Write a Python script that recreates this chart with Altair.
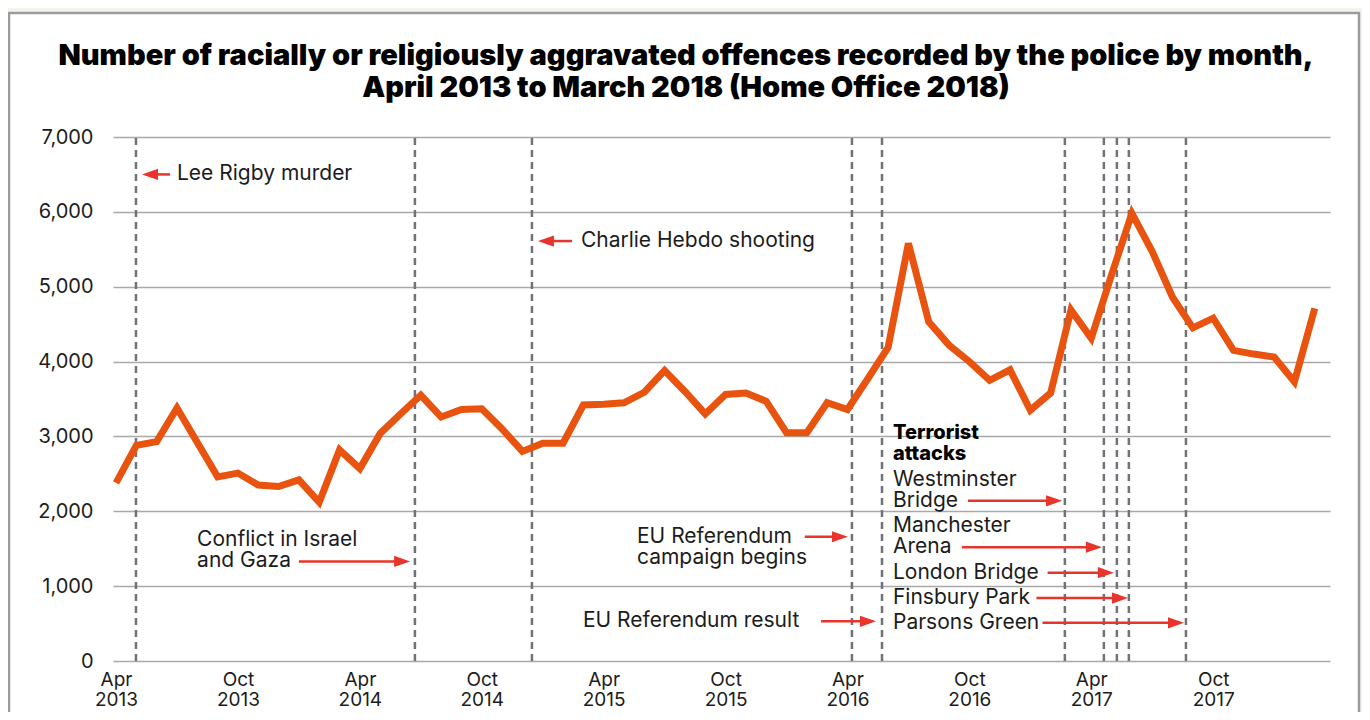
import altair as alt
import pandas as pd

# ---------------- data ----------------
month_labels = [d.strftime("%b %Y") for d in pd.date_range("2013-04-01", "2018-03-01", freq="MS")]
offences = [
    2380, 2880, 2930, 3380, 2920, 2460, 2510, 2350, 2330, 2420, 2120, 2820,   # Apr13-Mar14
    2570, 3040, 3300, 3550, 3260, 3360, 3370, 3100, 2800, 2910, 2910, 3420,   # Apr14-Mar15
    3430, 3450, 3590, 3880, 3600, 3300, 3560, 3580, 3470, 3050, 3050, 3450,   # Apr15-Mar16
    3360, 3770, 4190, 5580, 4530, 4220, 4000, 3750, 3890, 3350, 3580, 4690,   # Apr16-Mar17
    4310, 5160, 5980, 5470, 4860, 4450, 4580, 4150, 4100, 4060, 3730, 4710,   # Apr17-Mar18
]

tick_pos = [0, 6, 12, 18, 24, 30, 36, 42, 48, 54]
tick_labels = [["Apr", "2013"], ["Oct", "2013"], ["Apr", "2014"], ["Oct", "2014"],
               ["Apr", "2015"], ["Oct", "2015"], ["Apr", "2016"], ["Oct", "2016"],
               ["Apr", "2017"], ["Oct", "2017"]]
y_ticks = [0, 1000, 2000, 3000, 4000, 5000, 6000, 7000]

title_lines = ["Number of racially or religiously aggravated offences recorded by the police by month,",
               "April 2013 to March 2018 (Home Office 2018)"]

# events (position in months from April 2013)
event_names = ["Lee Rigby murder", "Conflict in Israel and Gaza", "Charlie Hebdo shooting",
               "EU Referendum campaign begins", "EU Referendum result", "Westminster Bridge",
               "Manchester Arena", "London Bridge", "Finsbury Park", "Parsons Green"]
event_pos = [0.98, 14.71, 20.47, 36.22, 37.70, 46.70, 48.62, 49.26, 49.85, 52.66]

# annotation text lines
ann_text = ["Lee Rigby murder", "Charlie Hebdo shooting", "Conflict in Israel", "and Gaza",
            "EU Referendum", "campaign begins", "EU Referendum result",
            "Terrorist", "attacks", "Westminster", "Bridge", "Manchester", "Arena",
            "London Bridge", "Finsbury Park", "Parsons Green"]
ann_x = [3.00, 22.88, 3.99, 3.99, 25.64, 25.64, 22.98,
         38.24, 38.24, 38.24, 38.24, 38.24, 38.24, 38.24, 38.24, 38.24]
ann_y = [6500, 5610, 1620, 1330, 1660, 1380, 530,
         3050, 2770, 2420, 2140, 1800, 1520, 1180, 840, 510]
ann_bold = [False] * 7 + [True, True] + [False] * 7

# arrows: tail -> tip
arrow_tail = [2.66, 22.44, 9.0, 33.9, 34.7, 41.93, 41.63, 45.85, 45.3, 45.6]
arrow_tip = [1.28, 20.77, 14.47, 36.02, 37.40, 46.56, 48.52, 49.11, 49.80, 52.56]
arrow_y = [6500, 5610, 1330, 1660, 530, 2140, 1520, 1180, 840, 510]

# ---------------- styling ----------------
LINE = "#e8530f"
ARROW = "#e8342a"
RULE = "#6f7377"
GRID = "#a9a9a9"
TEXT = "#1c1c1c"
FONT = "Inter"
FS = 21
XDOM = [-0.15, 59.75]
W, H = 1217, 524

xscale = alt.Scale(domain=XDOM, nice=False, zero=False)
yscale = alt.Scale(domain=[0, 7000], nice=False)

label_expr = str(tick_labels).replace("'", '"') + "[round(datum.value / 6)]"
x_axis = alt.Axis(values=tick_pos, labelExpr=label_expr, title=None, grid=False,
                  ticks=False, domain=False, labelFont=FONT, labelFontSize=19,
                  labelColor=TEXT, labelPadding=9, labelLineHeight=20.5,
                  labelOverlap=False, labelFlush=False, labelBound=False)
y_axis = alt.Axis(values=y_ticks, format=",.0f", title=None, grid=True, gridColor=GRID,
                  gridWidth=1.5, ticks=False, domain=False, labelFont=FONT,
                  labelFontSize=FS - 1, labelColor=TEXT, labelPadding=20)

df = pd.DataFrame({"idx": list(range(len(offences))), "month": month_labels, "value": offences})
ev = pd.DataFrame({"name": event_names, "pos": event_pos, "lo": 0, "hi": 7000})
ann = pd.DataFrame({"text": ann_text, "x": ann_x, "y": ann_y, "bold": ann_bold})
arr = pd.DataFrame({"tail": arrow_tail, "tip": arrow_tip, "y": arrow_y})
head_len = 0.39
arr["dir"] = ["right" if t > s else "left" for s, t in zip(arr["tail"], arr["tip"])]
arr["head"] = [t - head_len if d == "right" else t + head_len for t, d in zip(arr["tip"], arr["dir"])]
one = pd.DataFrame({"a": [0]})
ttl = pd.DataFrame({"t": title_lines, "line": [0, 1]})

# frame decoration
cream = alt.Chart(one).mark_rect(fillOpacity=0, stroke="#f3f5ec", strokeWidth=30).encode(
    x=alt.value(-119), x2=alt.value(1261), y=alt.value(-139), y2=alt.value(720))
frame = alt.Chart(one).mark_rect(fillOpacity=0, stroke="#9b9b9b", strokeWidth=2.5).encode(
    x=alt.value(-104), x2=alt.value(1246), y=alt.value(-124), y2=alt.value(700))

title_style = dict(font="Inter", fontSize=29, fontWeight=900, color="#000",
                   align="center", baseline="middle")
title1 = alt.Chart(ttl).transform_filter("datum.line == 0").mark_text(**title_style).encode(
    x=alt.value(573), y=alt.value(-81), text="t:N")
title2 = alt.Chart(ttl).transform_filter("datum.line == 1").mark_text(**title_style).encode(
    x=alt.value(573), y=alt.value(-49), text="t:N")

rules = alt.Chart(ev).mark_rule(color=RULE, strokeWidth=2.5, strokeDash=[7, 5]).encode(
    x=alt.X("pos:Q", scale=xscale, axis=x_axis),
    y=alt.Y("lo:Q", scale=yscale, axis=y_axis),
    y2="hi:Q",
)

line = alt.Chart(df).mark_line(color=LINE, strokeWidth=7, strokeJoin="miter", strokeCap="butt").encode(
    x=alt.X("idx:Q", scale=xscale, axis=x_axis),
    y=alt.Y("value:Q", scale=yscale, axis=y_axis),
)

shafts = alt.Chart(arr).mark_rule(color=ARROW, strokeWidth=2.5).encode(
    x=alt.X("tail:Q", scale=xscale, axis=x_axis),
    x2="head:Q",
    y=alt.Y("y:Q", scale=yscale, axis=y_axis),
)

heads = alt.Chart(arr).mark_point(filled=True, opacity=1, color=ARROW, size=256, strokeWidth=0).encode(
    x=alt.X("head:Q", scale=xscale, axis=x_axis),
    y=alt.Y("y:Q", scale=yscale, axis=y_axis),
    shape=alt.Shape("dir:N", legend=None,
                    scale=alt.Scale(domain=["left", "right"],
                                    range=["M-1,0L1,-0.7L1,0.7Z", "M1,0L-1,-0.7L-1,0.7Z"])),
)

texts = alt.Chart(ann).transform_filter("!datum.bold").mark_text(
    align="left", baseline="middle", font=FONT, fontSize=FS, color=TEXT).encode(
    x=alt.X("x:Q", scale=xscale, axis=x_axis),
    y=alt.Y("y:Q", scale=yscale, axis=y_axis),
    text="text:N",
)
btexts = alt.Chart(ann).transform_filter("datum.bold").mark_text(
    align="left", baseline="middle", font=FONT, fontSize=FS - 1, fontWeight=800, color="#000").encode(
    x=alt.X("x:Q", scale=xscale, axis=x_axis),
    y=alt.Y("y:Q", scale=yscale, axis=y_axis),
    text="text:N",
)

chart = alt.layer(cream, frame, rules, line, shafts, heads, texts, btexts, title1, title2).properties(
    width=W, height=H,
    autosize=alt.AutoSizeParams(type="none"),
    padding={"left": 105, "top": 129, "right": 32, "bottom": 51},
    background="white",
).configure_view(stroke=None)

chart.save("out.html", embed_options={"renderer": "svg", "actions": False})
